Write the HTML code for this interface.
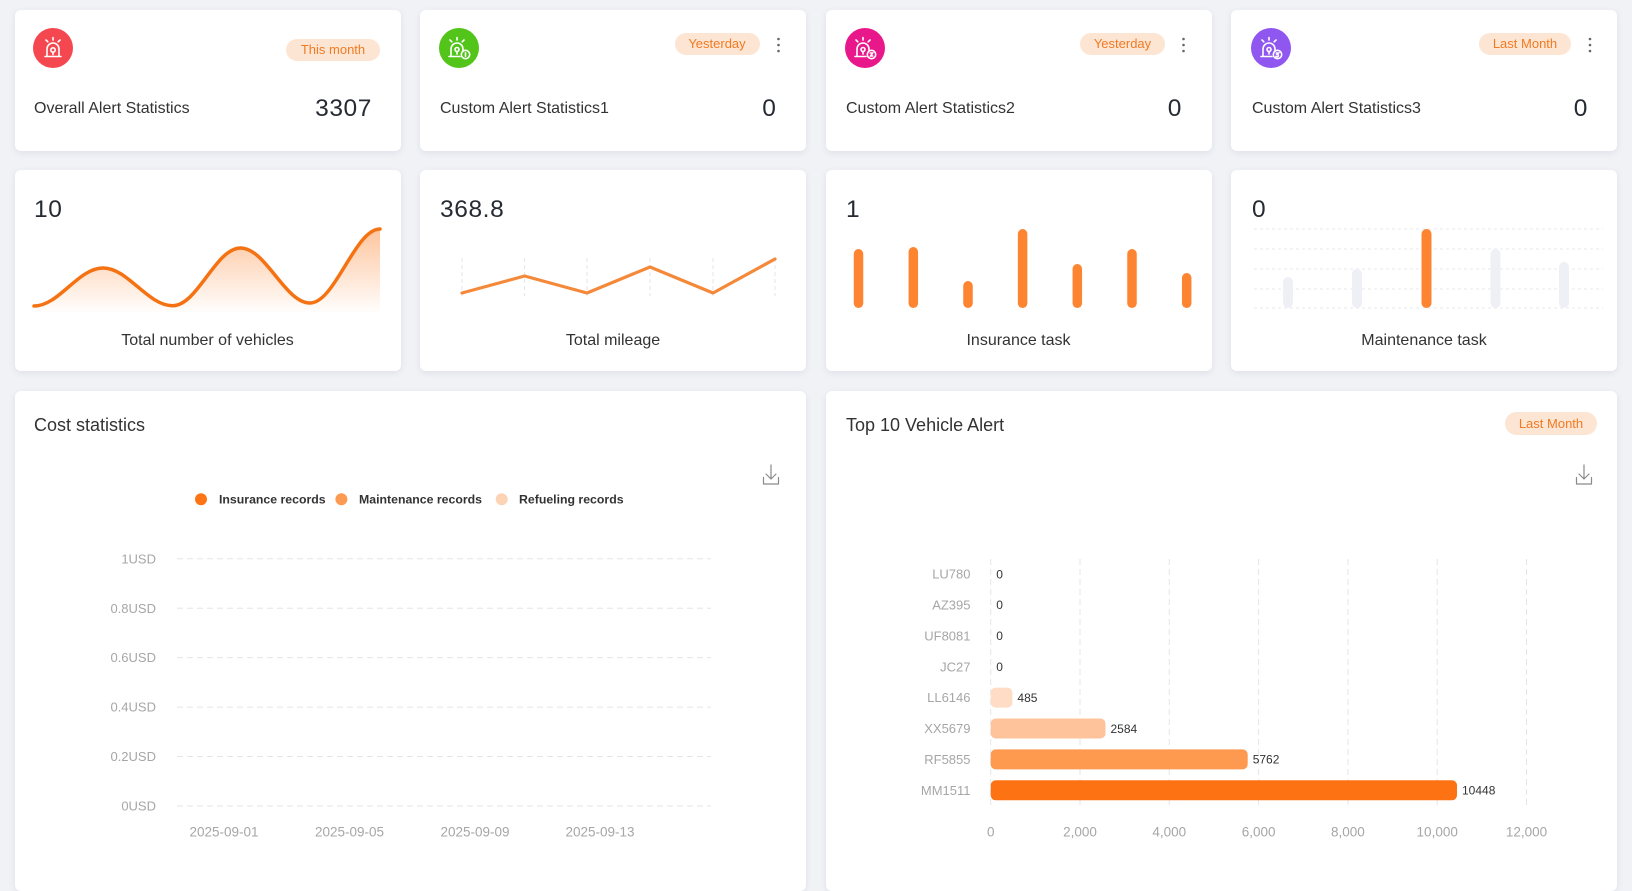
<!DOCTYPE html>
<html>
<head>
<meta charset="utf-8">
<style>
  html,body{margin:0;padding:0;}
  body{width:1632px;height:848px;overflow:hidden;background:#f0f2f6;font-family:"Liberation Sans",Arial,sans-serif;position:relative;}
  .card{position:absolute;background:#fff;border-radius:6px;box-shadow:0 2px 7px rgba(40,50,90,0.09);}
  .t{position:absolute;white-space:nowrap;}
  .lbl{font-size:16px;line-height:20px;height:20px;color:#333;}
  .num{font-size:24.5px;line-height:28px;height:28px;color:#262a33;letter-spacing:0.6px;}
  .badge{position:absolute;background:#fde5d4;color:#f07b22;font-size:13px;text-align:center;border-radius:12px;white-space:nowrap;}
  .clbl{position:absolute;width:386px;text-align:center;font-size:16px;line-height:20px;color:#333;}
  svg.ov{position:absolute;left:0;top:0;}
</style>
</head>
<body>

<!-- Cards -->
<div class="card" style="left:14.5px;top:9.5px;width:386px;height:141px;"></div>
<div class="card" style="left:420px;top:9.5px;width:386px;height:141px;"></div>
<div class="card" style="left:825.5px;top:9.5px;width:386px;height:141px;"></div>
<div class="card" style="left:1231px;top:9.5px;width:386px;height:141px;"></div>

<div class="card" style="left:14.5px;top:169.5px;width:386px;height:201px;"></div>
<div class="card" style="left:420px;top:169.5px;width:386px;height:201px;"></div>
<div class="card" style="left:825.5px;top:169.5px;width:386px;height:201px;"></div>
<div class="card" style="left:1231px;top:169.5px;width:386px;height:201px;"></div>

<div class="card" style="left:14.5px;top:391px;width:791.5px;height:500px;"></div>
<div class="card" style="left:825.5px;top:391px;width:791.5px;height:500px;"></div>

<!-- Row 1 texts -->
<div class="t lbl" style="left:34px;top:99px;">Overall Alert Statistics</div>
<div class="t num" style="right:1260px;top:94.5px;">3307</div>
<div class="t lbl" style="left:440px;top:99px;">Custom Alert Statistics1</div>
<div class="t num" style="right:855.5px;top:94.5px;">0</div>
<div class="t lbl" style="left:846px;top:99px;">Custom Alert Statistics2</div>
<div class="t num" style="right:450px;top:94.5px;">0</div>
<div class="t lbl" style="left:1252px;top:99px;">Custom Alert Statistics3</div>
<div class="t num" style="right:44px;top:94.5px;">0</div>

<!-- Badges -->
<div class="badge" style="left:286px;top:38.5px;width:94px;height:22px;line-height:22px;">This month</div>
<div class="badge" style="left:674.5px;top:33px;width:85px;height:22px;line-height:22px;">Yesterday</div>
<div class="badge" style="left:1080px;top:33px;width:85px;height:22px;line-height:22px;">Yesterday</div>
<div class="badge" style="left:1479px;top:33px;width:92px;height:22px;line-height:22px;">Last Month</div>
<div class="badge" style="left:1505px;top:412px;width:92px;height:23px;line-height:23px;">Last Month</div>

<!-- Row 2 texts -->
<div class="t num" style="left:34px;top:196px;">10</div>
<div class="t num" style="left:440px;top:196px;">368.8</div>
<div class="t num" style="left:846px;top:196px;">1</div>
<div class="t num" style="left:1252px;top:196px;">0</div>
<div class="clbl" style="left:14.5px;top:330.5px;">Total number of vehicles</div>
<div class="clbl" style="left:420px;top:330.5px;">Total mileage</div>
<div class="clbl" style="left:825.5px;top:330.5px;">Insurance task</div>
<div class="clbl" style="left:1231px;top:330.5px;">Maintenance task</div>

<!-- Bottom titles -->
<div class="t" style="left:34px;top:414px;font-size:18px;line-height:22px;color:#333;">Cost statistics</div>
<div class="t" style="left:846px;top:414px;font-size:18px;line-height:22px;color:#333;">Top 10 Vehicle Alert</div>

<svg class="ov" width="1632" height="848" viewBox="0 0 1632 848" xmlns="http://www.w3.org/2000/svg">
  <defs>
    <linearGradient id="wg" x1="0" y1="229" x2="0" y2="314" gradientUnits="userSpaceOnUse">
      <stop offset="0" stop-color="#fd8a3a" stop-opacity="0.5"/>
      <stop offset="1" stop-color="#fd8a3a" stop-opacity="0"/>
    </linearGradient>
  </defs>

  <!-- Icons -->
  <g transform="translate(33,28)">
    <circle cx="20" cy="20" r="20" fill="#f5474f"/>
    <g fill="none" stroke="#fff" stroke-width="1.6" stroke-linecap="round">
      <path d="M14 28 V21 a6 6 0 0 1 12 0 V28"/>
      <path d="M12 28.5 H28"/>
      <circle cx="20" cy="22" r="2.2"/>
      <path d="M20 24.2 V26.5"/>
      <path d="M20 9.5 V12"/>
      <path d="M13 12 l1.8 1.8"/>
      <path d="M27 12 l-1.8 1.8"/>
    </g>
  </g>
  <g transform="translate(439,28)">
    <circle cx="20" cy="20" r="20" fill="#52c41a"/>
    <g fill="none" stroke="#fff" stroke-width="1.6" stroke-linecap="round">
      <path d="M12 28 V21 a6 6 0 0 1 12 0 V23"/>
      <path d="M10 28.5 H21"/>
      <circle cx="18" cy="21.5" r="2"/>
      <path d="M18 23.5 V26"/>
      <path d="M18 9.5 V12"/>
      <path d="M11 12 l1.8 1.8"/>
      <path d="M25 12 l-1.8 1.8"/>
      <circle cx="26.5" cy="26.5" r="4.2"/>
      <path d="M26.5 24.8 V28.2"/>
    </g>
  </g>
  <g transform="translate(845,28)">
    <circle cx="20" cy="20" r="20" fill="#e8178a"/>
    <g fill="none" stroke="#fff" stroke-width="1.6" stroke-linecap="round">
      <path d="M12 28 V21 a6 6 0 0 1 12 0 V23"/>
      <path d="M10 28.5 H21"/>
      <circle cx="18" cy="21.5" r="2"/>
      <path d="M18 23.5 V26"/>
      <path d="M18 9.5 V12"/>
      <path d="M11 12 l1.8 1.8"/>
      <path d="M25 12 l-1.8 1.8"/>
      <circle cx="26.5" cy="26.5" r="4.2"/>
      <path d="M25.2 25 h2.4 l-2 3 h2.2"/>
    </g>
  </g>
  <g transform="translate(1251,28)">
    <circle cx="20" cy="20" r="20" fill="#8f56f0"/>
    <g fill="none" stroke="#fff" stroke-width="1.6" stroke-linecap="round">
      <path d="M12 28 V21 a6 6 0 0 1 12 0 V23"/>
      <path d="M10 28.5 H21"/>
      <circle cx="18" cy="21.5" r="2"/>
      <path d="M18 23.5 V26"/>
      <path d="M18 9.5 V12"/>
      <path d="M11 12 l1.8 1.8"/>
      <path d="M25 12 l-1.8 1.8"/>
      <circle cx="26.5" cy="26.5" r="4.2"/>
      <path d="M25.2 25 h2.4 l-1.4 1.4 a1.3 1.3 0 1 1 -1.2 2"/>
    </g>
  </g>

  <!-- Kebab dots -->
  <g fill="#666">
    <circle cx="778.5" cy="39" r="1.3"/><circle cx="778.5" cy="45" r="1.3"/><circle cx="778.5" cy="51" r="1.3"/>
    <circle cx="1183.5" cy="39" r="1.3"/><circle cx="1183.5" cy="45" r="1.3"/><circle cx="1183.5" cy="51" r="1.3"/>
    <circle cx="1590" cy="39" r="1.3"/><circle cx="1590" cy="45" r="1.3"/><circle cx="1590" cy="51" r="1.3"/>
  </g>

  <!-- Wave chart -->
  <path d="M34,306 C59,306 78,268 103,268 C128,268 147.6,305.7 172.6,305.7 C197.6,305.7 215.6,248 240.6,248 C265.6,248 285,303 310,303 C335,303 355,229 380,229 L380,314 L34,314 Z" fill="url(#wg)"/>
  <path d="M34,306 C59,306 78,268 103,268 C128,268 147.6,305.7 172.6,305.7 C197.6,305.7 215.6,248 240.6,248 C265.6,248 285,303 310,303 C335,303 355,229 380,229" fill="none" stroke="#f57212" stroke-width="3.5" stroke-linecap="round"/>

  <!-- Mileage chart -->
  <g stroke="#e4e5e8" stroke-width="1" stroke-dasharray="4 3">
    <line x1="462" y1="258" x2="462" y2="296"/>
    <line x1="524.6" y1="258" x2="524.6" y2="296"/>
    <line x1="587" y1="258" x2="587" y2="296"/>
    <line x1="650" y1="258" x2="650" y2="296"/>
    <line x1="713" y1="258" x2="713" y2="296"/>
    <line x1="775" y1="258" x2="775" y2="296"/>
  </g>
  <polyline points="462,293 524.6,276 587,293 650,267 713,293 775,259" fill="none" stroke="#f5893a" stroke-width="3.2" stroke-linejoin="round" stroke-linecap="round"/>

  <!-- Insurance bars -->
  <g stroke="#fd8430" stroke-width="9.5" stroke-linecap="round">
    <line x1="858.5" y1="253.8" x2="858.5" y2="303.3"/>
    <line x1="913.3" y1="251.8" x2="913.3" y2="303.3"/>
    <line x1="968" y1="285.8" x2="968" y2="303.3"/>
    <line x1="1022.6" y1="233.8" x2="1022.6" y2="303.3"/>
    <line x1="1077.3" y1="268.8" x2="1077.3" y2="303.3"/>
    <line x1="1132" y1="253.8" x2="1132" y2="303.3"/>
    <line x1="1186.7" y1="277.8" x2="1186.7" y2="303.3"/>
  </g>

  <!-- Maintenance chart -->
  <g stroke="#e8e9ee" stroke-width="1" stroke-dasharray="3 3">
    <line x1="1254" y1="229" x2="1603" y2="229"/>
    <line x1="1254" y1="249" x2="1603" y2="249"/>
    <line x1="1254" y1="269" x2="1603" y2="269"/>
    <line x1="1254" y1="289" x2="1603" y2="289"/>
    <line x1="1254" y1="308" x2="1603" y2="308"/>
  </g>
  <g stroke-width="10" stroke-linecap="round">
    <line x1="1288" y1="282" x2="1288" y2="303" stroke="#eff0f5"/>
    <line x1="1357" y1="274" x2="1357" y2="303" stroke="#eff0f5"/>
    <line x1="1426.5" y1="234" x2="1426.5" y2="303" stroke="#fd8430"/>
    <line x1="1495.5" y1="254" x2="1495.5" y2="303" stroke="#eff0f5"/>
    <line x1="1564" y1="267" x2="1564" y2="303" stroke="#eff0f5"/>
  </g>

  <!-- Download icons -->
  <g fill="none" stroke="#8a8a8a" stroke-width="1.2" stroke-linecap="round" stroke-linejoin="round">
    <path d="M771 465 V479 M766 474 L771 479 L776 474 M763.5 477.5 V484 H778.5 V477.5"/>
    <path d="M1584 465 V479 M1579 474 L1584 479 L1589 474 M1576.5 477.5 V484 H1591.5 V477.5"/>
  </g>

  <!-- Cost statistics legend -->
  <circle cx="201" cy="499.3" r="6" fill="#fd7415"/>
  <circle cx="341.4" cy="499.3" r="6" fill="#fd9a52"/>
  <circle cx="501.7" cy="499.3" r="6" fill="#fdd3b5"/>
  <g font-family="Liberation Sans, Arial, sans-serif" font-size="12.3" font-weight="bold" fill="#333">
    <text x="219" y="503.6">Insurance records</text>
    <text x="359" y="503.6">Maintenance records</text>
    <text x="519" y="503.6">Refueling records</text>
  </g>

  <!-- Cost statistics grid -->
  <g stroke="#e3e5ea" stroke-width="1" stroke-dasharray="6 4">
    <line x1="177" y1="558.7" x2="711" y2="558.7"/>
    <line x1="177" y1="608.2" x2="711" y2="608.2"/>
    <line x1="177" y1="657.6" x2="711" y2="657.6"/>
    <line x1="177" y1="707.1" x2="711" y2="707.1"/>
    <line x1="177" y1="756.5" x2="711" y2="756.5"/>
    <line x1="177" y1="806" x2="711" y2="806"/>
  </g>
  <g font-family="Liberation Sans, Arial, sans-serif" font-size="13" fill="#a6a6a6" text-anchor="end">
    <text x="156" y="563.3">1USD</text>
    <text x="156" y="612.8">0.8USD</text>
    <text x="156" y="662.2">0.6USD</text>
    <text x="156" y="711.7">0.4USD</text>
    <text x="156" y="761.1">0.2USD</text>
    <text x="156" y="810.6">0USD</text>
  </g>
  <g font-family="Liberation Sans, Arial, sans-serif" font-size="13.5" fill="#a6a6a6" text-anchor="middle">
    <text x="224" y="836.5">2025-09-01</text>
    <text x="349.5" y="836.5">2025-09-05</text>
    <text x="475" y="836.5">2025-09-09</text>
    <text x="600" y="836.5">2025-09-13</text>
  </g>

  <!-- Top 10 bar chart grid -->
  <g stroke="#e3e5ea" stroke-width="1" stroke-dasharray="6 4">
    <line x1="990.7" y1="559" x2="990.7" y2="806"/>
    <line x1="1080" y1="559" x2="1080" y2="806"/>
    <line x1="1169.3" y1="559" x2="1169.3" y2="806"/>
    <line x1="1258.6" y1="559" x2="1258.6" y2="806"/>
    <line x1="1347.9" y1="559" x2="1347.9" y2="806"/>
    <line x1="1437.2" y1="559" x2="1437.2" y2="806"/>
    <line x1="1526.5" y1="559" x2="1526.5" y2="806"/>
  </g>
  <!-- bars -->
  <rect x="990.7" y="687.6" width="21.7" height="20" rx="5" fill="#fedcc6"/>
  <rect x="990.7" y="718.5" width="114.8" height="20" rx="5" fill="#fec39a"/>
  <rect x="990.7" y="749.4" width="257" height="20" rx="5" fill="#fd9a50"/>
  <rect x="990.7" y="780.3" width="466.3" height="20" rx="5" fill="#fd7213"/>
  <!-- category labels -->
  <g font-family="Liberation Sans, Arial, sans-serif" font-size="13" fill="#a6a6a6" text-anchor="end">
    <text x="970.5" y="578.6">LU780</text>
    <text x="970.5" y="609.5">AZ395</text>
    <text x="970.5" y="640.4">UF8081</text>
    <text x="970.5" y="671.3">JC27</text>
    <text x="970.5" y="702.2">LL6146</text>
    <text x="970.5" y="733.1">XX5679</text>
    <text x="970.5" y="764">RF5855</text>
    <text x="970.5" y="794.9">MM1511</text>
  </g>
  <!-- value labels -->
  <g font-family="Liberation Sans, Arial, sans-serif" font-size="12" fill="#333">
    <text x="996.2" y="578.3">0</text>
    <text x="996.2" y="609.2">0</text>
    <text x="996.2" y="640.1">0</text>
    <text x="996.2" y="671">0</text>
    <text x="1017.4" y="701.9">485</text>
    <text x="1110.5" y="732.8">2584</text>
    <text x="1252.7" y="763.7">5762</text>
    <text x="1462" y="794.6">10448</text>
  </g>
  <g font-family="Liberation Sans, Arial, sans-serif" font-size="13.5" fill="#a6a6a6" text-anchor="middle">
    <text x="990.7" y="836.5">0</text>
    <text x="1080" y="836.5">2,000</text>
    <text x="1169.3" y="836.5">4,000</text>
    <text x="1258.6" y="836.5">6,000</text>
    <text x="1347.9" y="836.5">8,000</text>
    <text x="1437.2" y="836.5">10,000</text>
    <text x="1526.5" y="836.5">12,000</text>
  </g>
</svg>

</body>
</html>
